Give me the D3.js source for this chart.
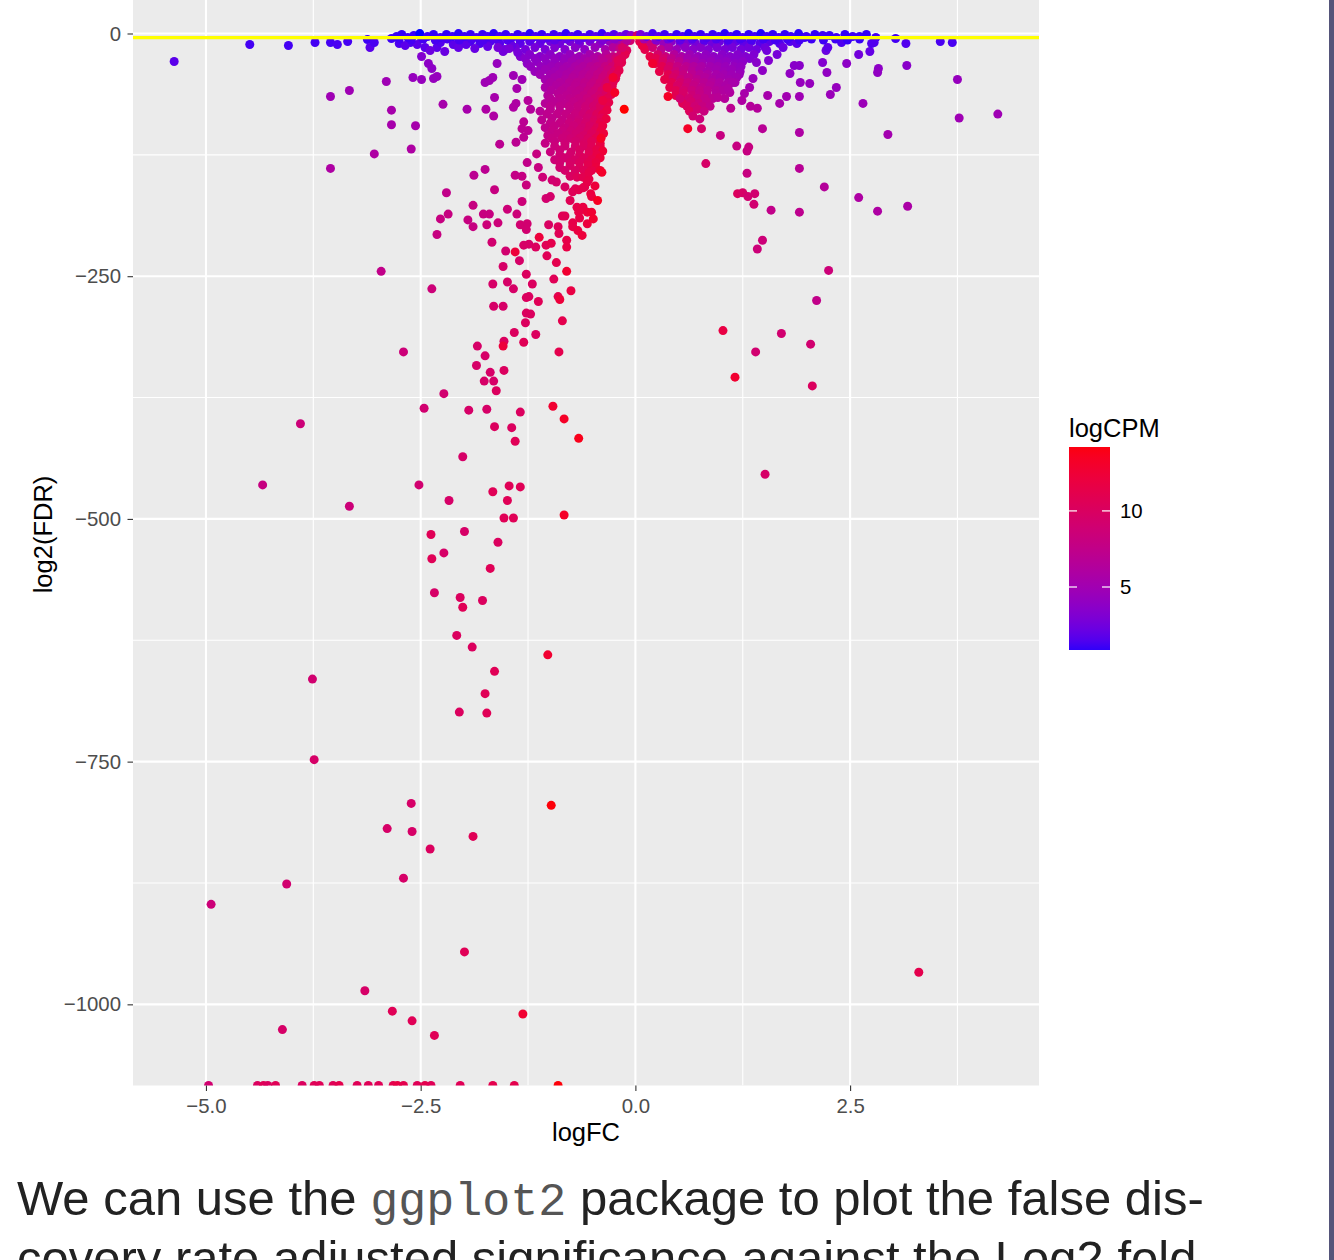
<!DOCTYPE html>
<html><head><meta charset="utf-8">
<script src="https://cdn.jsdelivr.net/npm/d3@7"></script>
<style>body{margin:0;background:#fff}svg{display:block}</style>
</head><body>
<svg id="chart" width="1334" height="1260"></svg>
<script>
// ---- data: [logFC, log2(FDR), logCPM] ----
const xTicks=[-5,-2.5,0,2.5];
const xMinor=[-3.75,-1.25,1.25,3.75];
const yTicks=[0,-250,-500,-750,-1000];
const yMinor=[125,-125,-375,-625,-875];
const legendTicks=[5,10];
const fdrThreshold=Math.log2(0.05);
const bodyLine1=["We can use the ","ggplot2"," package to plot the false dis-"];
const bodyLine2="covery rate adjusted significance against the Log2 fold-";

const leftWing=[
[-2.04,-10.3,1.6],[-1.92,-8.2,1.6],[-1.81,-10.3,1.7],[-1.69,-8.2,1.8],[-1.58,-10.3,1.9],[-1.46,-8.2,2.0],[-1.34,-10.3,2.1],[-1.23,-8.2,2.3],[-1.11,-10.3,2.4],[-0.99,-8.2,2.6],[-0.88,-10.3,2.8],[-0.76,-8.2,3.0],[-0.65,-10.3,3.2],[-0.53,-8.2,3.5],[-0.41,-10.3,3.9],[-0.30,-8.2,4.5],[-0.20,-10.3,5.6],[-0.12,-9.3,7.5],[-0.06,-7.2,9.0],
[-1.52,-16.5,2.7],[-1.40,-14.4,2.8],[-1.28,-16.5,2.9],[-1.17,-14.4,3.0],[-1.05,-16.5,3.2],[-0.94,-14.4,3.4],[-0.82,-16.5,3.6],[-0.70,-14.4,3.8],[-0.59,-16.5,4.1],[-0.47,-14.4,4.6],[-0.35,-16.5,5.4],[-0.26,-14.4,6.4],[-0.18,-15.5,7.8],[-0.10,-17.5,10.0],
[-1.34,-23.7,3.4],[-1.23,-21.6,3.6],[-1.11,-23.7,3.7],[-0.99,-21.6,3.9],[-0.88,-23.7,4.1],[-0.76,-21.6,4.4],[-0.65,-23.7,4.8],[-0.53,-21.6,5.4],[-0.44,-23.7,5.9],[-0.34,-21.6,6.6],[-0.26,-23.7,7.6],[-0.18,-22.7,9.0],[-0.12,-21.6,10.8],
[-1.28,-25.8,3.7],[-1.17,-25.8,3.9],[-1.05,-25.8,4.1],[-0.94,-25.8,4.3],[-0.82,-25.8,4.6],[-0.70,-25.8,5.0],[-0.59,-25.8,5.5],[-0.48,-25.8,6.1],[-0.39,-25.8,6.8],[-0.31,-25.8,7.6],[-0.23,-25.8,8.8],[-0.16,-25.8,10.4],
[-1.26,-30.9,4.0],[-1.15,-28.8,4.1],[-1.03,-30.9,4.3],[-0.94,-28.8,4.5],[-0.84,-30.9,4.8],[-0.74,-28.8,5.2],[-0.65,-30.9,5.6],[-0.55,-28.8,6.0],[-0.46,-30.9,6.5],[-0.37,-28.8,7.1],[-0.28,-30.9,8.0],[-0.22,-28.8,9.2],[-0.16,-29.9,10.8],
[-1.22,-34,4.3],[-1.10,-34,4.5],[-0.98,-34,4.8],[-0.89,-34,5.1],[-0.80,-34,5.4],[-0.70,-34,5.8],[-0.61,-34,6.2],[-0.52,-34,6.7],[-0.44,-34,7.2],[-0.35,-34,7.9],[-0.27,-34,9.0],[-0.20,-34,10.6],
[-1.17,-39.1,4.6],[-1.05,-37.1,4.9],[-0.94,-39.1,5.2],[-0.84,-37.1,5.5],[-0.75,-39.1,5.8],[-0.66,-37.1,6.2],[-0.56,-39.1,6.6],[-0.48,-37.1,7.0],[-0.40,-39.1,7.6],[-0.32,-37.1,8.4],[-0.25,-39.1,9.6],[-0.19,-38.1,11.0],
[-1.11,-42.2,5.0],[-0.99,-42.2,5.3],[-0.89,-42.2,5.6],[-0.80,-42.2,5.9],[-0.70,-42.2,6.3],[-0.61,-42.2,6.7],[-0.52,-42.2,7.1],[-0.44,-42.2,7.6],[-0.35,-42.2,8.3],[-0.28,-42.2,9.3],[-0.22,-42.2,10.8],
[-1.05,-47.4,5.4],[-0.94,-45.3,5.7],[-0.82,-47.4,6.1],[-0.73,-45.3,6.5],[-0.63,-47.4,6.8],[-0.54,-45.3,7.2],[-0.46,-47.4,7.7],[-0.38,-45.3,8.4],[-0.30,-47.4,9.5],[-0.23,-46.4,11.0],
[-0.99,-50.5,5.9],[-0.88,-50.5,6.3],[-0.77,-50.5,6.7],[-0.68,-50.5,7.0],[-0.59,-50.5,7.4],[-0.49,-50.5,7.9],[-0.41,-50.5,8.5],[-0.33,-50.5,9.4],[-0.26,-50.5,10.8],
[-1.05,-55.6,5.8],[-0.92,-53.6,6.2],[-0.81,-55.6,6.6],[-0.70,-53.6,7.0],[-0.61,-55.6,7.3],[-0.52,-53.6,7.8],[-0.44,-55.6,8.4],[-0.35,-53.6,9.2],[-0.27,-54.6,10.8],
[-0.98,-58.7,6.3],[-0.86,-58.7,6.7],[-0.75,-58.7,7.1],[-0.65,-58.7,7.4],[-0.55,-58.7,7.9],[-0.47,-58.7,8.5],[-0.39,-58.7,9.3],[-0.31,-58.7,10.5],
[-1.02,-63.9,6.3],[-0.90,-61.8,6.7],[-0.80,-63.9,7.0],[-0.69,-61.8,7.3],[-0.60,-63.9,7.8],[-0.51,-61.8,8.3],[-0.42,-63.9,9.0],[-0.34,-61.8,9.8],[-0.28,-62.8,11.0],
[-0.99,-67,6.7],[-0.88,-67,7.0],[-0.76,-67,7.3],[-0.66,-67,7.7],[-0.56,-67,8.2],[-0.47,-67,8.8],[-0.40,-67,9.6],[-0.33,-67,10.8],
[-1.05,-72,6.6],[-0.94,-70,6.9],[-0.82,-72,7.2],[-0.72,-70,7.6],[-0.62,-72,8.0],[-0.53,-70,8.5],[-0.45,-72,9.2],[-0.37,-70,10.0],[-0.31,-71,11.2],
[-0.99,-75,7.0],[-0.88,-75,7.3],[-0.77,-75,7.6],[-0.67,-75,8.0],[-0.58,-75,8.5],[-0.49,-75,9.1],[-0.41,-75,9.9],[-0.34,-75,11.0],
[-1.11,-80,6.8],[-0.99,-78,7.1],[-0.88,-80,7.3],[-0.76,-78,7.7],[-0.67,-80,8.1],[-0.58,-78,8.6],[-0.48,-80,9.3],[-0.40,-78,10.1],[-0.33,-79,11.4],
[-1.03,-83,7.2],[-0.91,-83,7.5],[-0.81,-83,7.8],[-0.70,-83,8.2],[-0.61,-83,8.7],[-0.53,-83,9.3],[-0.45,-83,10.1],[-0.38,-83,11.2],
[-1.09,-89,7.1],[-0.97,-87,7.3],[-0.85,-89,7.7],[-0.75,-87,8.1],[-0.66,-89,8.5],[-0.56,-87,9.0],[-0.48,-89,9.7],[-0.40,-87,10.5],[-0.34,-88,11.6],
[-0.99,-92,7.5],[-0.88,-92,7.9],[-0.77,-92,8.3],[-0.67,-92,8.7],[-0.58,-92,9.2],[-0.48,-92,9.9],[-0.41,-92,11.0],
[-1.05,-97,7.3],[-0.94,-95,7.7],[-0.82,-97,8.1],[-0.72,-95,8.5],[-0.62,-97,9.0],[-0.53,-95,9.6],[-0.45,-97,10.3],[-0.38,-95,11.5],
[-0.97,-100,7.8],[-0.85,-100,8.2],[-0.75,-100,8.6],[-0.65,-100,9.0],[-0.55,-100,9.6],[-0.47,-100,10.4],[-0.40,-100,11.5],
[-1.02,-105,7.7],[-0.90,-103,8.0],[-0.80,-105,8.4],[-0.69,-103,8.9],[-0.60,-105,9.4],[-0.51,-103,10.1],[-0.42,-105,11.0],[-0.37,-103,12.0],
[-0.97,-108,8.0],[-0.85,-108,8.4],[-0.75,-108,8.8],[-0.65,-108,9.3],[-0.55,-108,9.9],[-0.46,-108,10.8],
[-1.05,-113,7.8],[-0.94,-111,8.1],[-0.82,-113,8.6],[-0.70,-111,9.1],[-0.60,-113,9.7],[-0.51,-111,10.4],[-0.41,-113,11.6],
[-0.94,-116,8.3],[-0.82,-116,8.7],[-0.70,-116,9.2],[-0.60,-116,9.8],[-0.51,-116,10.5],[-0.41,-116,11.6],
[-0.99,-122,8.2],[-0.88,-120,8.6],[-0.75,-122,9.1],[-0.65,-120,9.7],[-0.54,-122,10.3],[-0.45,-120,11.2],[-0.38,-121,12.2],
[-0.88,-125,8.7],[-0.76,-125,9.2],[-0.65,-125,9.8],[-0.54,-125,10.5],[-0.45,-125,11.4],
[-0.94,-130,8.6],[-0.82,-128,9.0],[-0.70,-130,9.6],[-0.60,-128,10.2],[-0.51,-130,11.0],[-0.41,-128,12.0],
[-0.88,-133,8.9],[-0.76,-133,9.4],[-0.65,-133,10.0],[-0.55,-133,10.7],[-0.46,-133,11.6],
[-0.88,-138,9.0],[-0.76,-136,9.6],[-0.65,-138,10.1],[-0.55,-136,10.9],[-0.46,-138,11.8],
[-0.82,-141,9.3],[-0.70,-141,9.8],[-0.60,-141,10.4],[-0.51,-141,11.2],[-0.41,-141,12.3],
[-0.76,-147,9.8],[-0.68,-148,10.3],[-0.61,-148,10.8],[-0.54,-150,11.3],[-0.54,-143,11.1],[-0.39,-143,12.8],[-0.92,-153,9.3],[-0.97,-151,9.0],[-1.08,-148,8.6],[-1.27,-156,8.2],[-1.32,-147,7.9],[-1.40,-146,7.7],
[-0.82,-158,9.8],[-0.70,-160,10.4],[-0.59,-158,11.0],[-0.51,-168,11.8],
[-0.73,-163,10.4],[-0.66,-161,10.8],[-0.61,-159,11.0],[-0.52,-165,11.8],[-0.44,-172,13.2],[-0.99,-168,9.3],[-1.04,-170,9.1],[-0.47,-157,12.0],[-0.56,-153,11.2],
[-0.76,-172,10.6],[-0.65,-190,11.3],[-0.56,-196,11.9],
[-0.68,-179,11.2],[-0.61,-179,11.6],[-0.56,-184,12.0],[-0.51,-184,12.4],[-0.49,-191,12.6],[-0.66,-184,11.4],[-0.85,-188,10.4],[-0.82,-188,10.6],[-0.73,-195,11.2],[-0.73,-199,11.3],[-0.67,-203,11.7],[-0.62,-208,12.0],[-0.80,-213,11.2],[-0.80,-220,11.4],[-1.01,-197,9.8],[-0.90,-199,10.3],[-0.89,-206,10.5],
[-0.26,-45.3,12.5],[-0.24,-60.8,13.0],[-0.13,-78,14.2],[-0.33,-55.6,11.5],[-0.38,-69,11.5],[-0.20,-27.8,10.5],[-0.15,-14.4,9.5],[-0.40,-108,13.0]
];

const rightWing=[
[0.05,-8.2,11.0],[0.15,-10.3,8.0],[0.24,-8.2,6.0],[0.33,-10.3,4.6],[0.42,-8.2,3.8],[0.52,-10.3,3.5],[0.61,-8.2,3.2],[0.70,-10.3,3.0],[0.80,-8.2,2.8],[0.89,-10.3,2.7],[0.98,-8.2,2.5],[1.08,-10.3,2.4],[1.17,-8.2,2.3],[1.26,-10.3,2.2],[1.35,-8.2,2.1],[1.45,-10.3,2.0],[1.56,-8.2,2.0],[1.68,-10.3,1.9],[1.80,-8.2,1.8],
[0.11,-16.5,11.0],[0.20,-14.4,8.8],[0.30,-16.5,7.0],[0.39,-14.4,5.6],[0.48,-16.5,4.7],[0.58,-14.4,4.1],[0.67,-16.5,3.9],[0.76,-14.4,3.7],[0.85,-16.5,3.5],[0.95,-14.4,3.3],[1.04,-16.5,3.2],[1.13,-14.4,3.0],[1.23,-16.5,2.9],[1.32,-14.4,2.8],[1.41,-16.5,2.7],[1.51,-14.4,2.6],
[0.17,-23.7,11.2],[0.26,-21.6,9.5],[0.35,-23.7,8.0],[0.45,-21.6,6.5],[0.54,-23.7,5.6],[0.63,-21.6,4.9],[0.73,-23.7,4.5],[0.82,-21.6,4.2],[0.91,-23.7,4.0],[1.01,-21.6,3.8],[1.10,-23.7,3.7],[1.19,-21.6,3.6],[1.28,-23.7,3.4],[1.38,-21.6,3.3],
[0.24,-25.8,10.8],[0.33,-25.8,9.0],[0.42,-25.8,7.4],[0.52,-25.8,6.2],[0.61,-25.8,5.4],[0.70,-25.8,4.9],[0.80,-25.8,4.5],[0.89,-25.8,4.3],[0.98,-25.8,4.1],[1.08,-25.8,3.9],[1.17,-25.8,3.7],[1.26,-25.8,3.6],[1.33,-25.8,3.5],
[0.23,-30.9,11.2],[0.32,-28.8,9.6],[0.41,-30.9,8.2],[0.51,-28.8,7.0],[0.60,-30.9,6.0],[0.69,-28.8,5.4],[0.78,-30.9,5.0],[0.88,-28.8,4.7],[0.97,-30.9,4.5],[1.06,-28.8,4.3],[1.16,-30.9,4.1],[1.25,-28.8,4.0],
[0.31,-34,10.8],[0.40,-34,9.2],[0.49,-34,7.9],[0.59,-34,7.0],[0.68,-34,6.3],[0.77,-34,5.8],[0.87,-34,5.3],[0.96,-34,5.0],[1.05,-34,4.7],[1.15,-34,4.5],[1.23,-34,4.3],
[0.28,-39.1,11.2],[0.38,-37.1,9.6],[0.47,-39.1,8.4],[0.56,-37.1,7.4],[0.66,-39.1,6.6],[0.75,-37.1,5.9],[0.84,-39.1,5.5],[0.94,-37.1,5.2],[1.03,-39.1,4.9],[1.12,-37.1,4.7],[1.22,-39.1,4.5],
[0.38,-42.2,10.8],[0.47,-42.2,9.2],[0.56,-42.2,8.0],[0.66,-42.2,7.1],[0.75,-42.2,6.5],[0.84,-42.2,6.0],[0.94,-42.2,5.6],[1.03,-42.2,5.3],[1.12,-42.2,5.0],[1.21,-42.2,4.8],
[0.34,-47.4,11.2],[0.44,-45.3,9.6],[0.53,-47.4,8.5],[0.62,-45.3,7.6],[0.72,-47.4,7.0],[0.81,-45.3,6.4],[0.90,-47.4,5.9],[0.99,-45.3,5.5],[1.09,-47.4,5.3],[1.18,-45.3,5.1],
[0.42,-50.5,10.8],[0.52,-50.5,9.3],[0.61,-50.5,8.3],[0.70,-50.5,7.5],[0.80,-50.5,6.9],[0.89,-50.5,6.4],[0.98,-50.5,6.0],[1.08,-50.5,5.7],[1.16,-50.5,5.4],
[0.40,-55.6,11.0],[0.49,-53.6,9.6],[0.59,-55.6,8.6],[0.68,-53.6,7.8],[0.77,-55.6,7.2],[0.87,-53.6,6.6],[0.96,-55.6,6.1],[1.05,-53.6,5.8],
[0.47,-58.7,10.6],[0.56,-58.7,9.2],[0.66,-58.7,8.3],[0.75,-58.7,7.6],[0.84,-58.7,7.0],[0.94,-58.7,6.5],[1.02,-58.7,6.2],
[0.47,-63.9,10.8],[0.56,-61.8,9.5],[0.66,-63.9,8.6],[0.75,-61.8,7.8],[0.84,-63.9,7.1],[0.94,-61.8,6.5],
[0.53,-67,10.3],[0.62,-67,9.0],[0.72,-67,8.2],[0.81,-67,7.6],[0.90,-67,7.0],
[0.55,-72,10.5],[0.65,-70,9.2],[0.74,-72,8.4],[0.83,-70,7.6],
[0.60,-75,10.0],[0.69,-75,8.8],[0.78,-75,8.0],[0.87,-75,7.5],
[0.63,-80,10.2],[0.72,-78,9.0],[0.80,-80,8.2],[0.67,-85,9.0],[0.75,-88,8.5],
[0.20,-30.9,12.5],[0.38,-64.9,13.0],[0.61,-98,13.0],[0.08,-12.4,11.5]
];

const leftScatter=[
[-5.37,-28.8,2.0],[-4.49,-11.3,1.5],[-4.04,-12.4,1.5],[-3.73,-9.3,1.5],[-3.55,-9.3,1.5],[-3.47,-11.3,1.6],[-3.35,-8.2,1.5],[-3.12,-6.2,1.4],[-3.09,-14.4,2.0],[-3.04,-9.3,1.6],[-2.84,-5.2,1.4],[-2.75,-10.3,1.7],[-2.62,-9.3,1.7],[-2.49,-5.2,1.5],[-2.45,-14.4,2.0],[-2.31,-14.4,2.0],[-2.22,-18.5,2.5],[-2.12,-11.3,2.0],
[-2.68,-12.4,2.0],[-2.54,-11.3,2.0],[-2.39,-17.5,2.6],[-2.27,-9.3,1.8],[-2.06,-14.4,2.3],[-1.97,-11.3,2.1],[-1.87,-15.5,2.4],[-1.72,-13.4,2.3],[-1.54,-18.5,2.8],[-1.44,-12.4,2.4],[-1.37,-19.6,3.0],
[-2.49,-23.7,3.5],[-2.41,-30.9,4.0],[-2.37,-36,4.0],[-2.59,-45.3,4.5],[-2.49,-47.4,4.5],[-2.35,-46.4,4.5],[-2.31,-44.3,4.5],[-2.90,-49.4,5.0],[-3.55,-64.9,5.0],[-3.33,-58.7,5.0],[-2.84,-79,5.5],[-2.84,-94,5.5],[-2.56,-95,5.5],[-3.04,-124,6.0],[-3.55,-139,6.0],[-2.61,-119,6.0],
[-2.24,-73,5.5],[-1.96,-78,5.5],[-1.74,-78,6.0],[-1.65,-85,6.0],[-1.64,-65.9,5.5],[-1.75,-50.5,5.0],[-1.70,-48.4,5.0],[-1.66,-45.3,5.0],[-1.61,-30.9,4.5],[-1.60,-14.4,3.0],[-1.47,-15.5,3.0],[-1.42,-43.3,5.0],[-1.32,-47.4,5.0],[-1.38,-56.7,5.5],[-1.42,-76,6.0],[-1.39,-72,6.0],[-1.25,-69,6.5],[-1.22,-78,6.5],
[-1.30,-91,7.0],[-1.32,-98,7.0],[-1.25,-100,7.0],[-1.30,-107,7.0],[-1.39,-112,7.0],[-1.58,-114,7.0],[-1.26,-133,7.5],[-1.15,-124,8.0],[-1.13,-138,8.0],[-1.88,-146,7.0],[-1.75,-140,7.0],
[-2.20,-164,7.5],[-1.64,-161,8.0],[-1.89,-177,8.0],[-1.32,-173,8.5],[-2.27,-191,8.0],[-2.18,-186,8.0],[-1.95,-192,8.0],[-1.89,-199,8.0],[-1.77,-186,8.0],[-1.70,-186,8.0],[-1.73,-197,8.5],[-1.60,-195,8.5],[-1.49,-181,8.5],[-1.38,-186,8.5],[-1.34,-197,9.0],[-1.26,-196,9.0],[-1.27,-202,9.0],[-2.31,-207,8.0],
[-1.67,-215,9.0],[-1.51,-224,9.0],[-1.40,-225,12.0],[-1.30,-218,9.5],[-1.24,-217,9.5],[-1.16,-220,10.0],[-1.04,-218,10.5],[-0.98,-216,11.0],[-1.03,-229,10.5],[-1.12,-210,12.0],[-0.92,-236,11.0],[-1.35,-234,9.5],[-1.54,-240,9.5],[-1.27,-248,10.0],
[-2.96,-245,7.5],[-2.37,-263,8.5],[-1.66,-258,9.5],[-1.49,-256,9.5],[-1.42,-263,9.5],[-1.20,-258,10.0],[-0.95,-253,10.5],[-0.80,-245,12.5],[-0.75,-265,11.5],[-1.27,-272,10.0],[-1.24,-271,10.0],[-1.13,-276,10.5],[-0.90,-271,11.0],[-0.88,-274,12.0],
[-1.65,-281,9.5],[-1.54,-281,9.5],[-1.27,-288,10.0],[-1.22,-289,10.0],[-1.28,-298,10.0],[-0.85,-296,11.0],[-1.41,-308,10.0],[-1.16,-310,10.0],[-1.53,-317,10.0],[-1.54,-322,12.0],[-1.30,-318,10.5],[-0.89,-328,11.0],
[-2.70,-328,8.5],[-1.84,-322,9.5],[-1.75,-332,9.5],[-1.85,-342,9.5],[-1.69,-349,9.5],[-1.53,-347,10.0],[-1.76,-358,9.5],[-1.65,-358,9.5],[-1.62,-368,10.0],[-2.23,-371,9.0],[-2.46,-386,9.0],[-1.94,-388,9.5],[-1.73,-387,9.5],[-1.34,-390,10.0],[-0.96,-384,12.5],[-0.83,-397,13.0],[-1.64,-405,10.0],[-1.44,-406,10.0],
[-0.66,-417,13.5],[-1.40,-420,10.5],[-2.01,-436,9.5],[-2.52,-465,9.0],[-1.66,-472,10.5],[-1.47,-466,10.5],[-1.34,-467,10.5],[-2.17,-481,9.5],[-1.49,-481,10.5],[-1.53,-499,10.5],[-1.42,-499,10.5],[-0.83,-496,13.0],
[-2.38,-516,10.5],[-1.99,-513,9.5],[-1.60,-524,10.0],[-2.23,-535,9.5],[-2.37,-541,10.5],[-1.69,-551,10.5],[-2.34,-576,9.5],[-2.04,-581,10.0],[-1.78,-584,10.0],[-2.01,-591,10.5],[-2.08,-620,10.0],[-1.90,-632,10.0],[-1.02,-640,12.5],[-1.64,-657,10.5],[-1.75,-680,10.5],[-2.05,-699,10.0],[-1.73,-700,10.5],
[-3.90,-402,8.5],[-4.34,-465,8.0],[-3.33,-487,8.5],[-3.76,-665,9.0],[-3.74,-748,9.5],
[-2.61,-793,9.5],[-0.98,-795,14.0],[-2.89,-819,9.5],[-2.60,-822,9.5],[-1.89,-827,10.5],[-2.39,-840,10.0],[-4.06,-876,9.0],[-2.70,-870,9.5],[-4.94,-897,8.5],[-1.99,-946,10.5],[-3.15,-986,9.5],[-2.83,-1007,10.5],[-1.31,-1010,12.5],[-4.11,-1026,9.5],[-2.60,-1017,10.5],[-2.34,-1032,10.5]
];

const rightScatter=[
[0.77,-98,9.5],[0.52,-67,9.0],[0.99,-105,8.0],[1.18,-116,8.0],[1.32,-117,8.0],[1.30,-121,8.0],[0.82,-134,9.5],[1.30,-144,8.0],[1.11,-77,7.0],[1.34,-75,6.5],[1.42,-77,6.5],[1.48,-98,6.8],[1.91,-102,6.0],[1.91,-139,6.8],
[1.54,-63.9,5.5],[1.68,-72,5.5],[1.76,-64.9,5.2],[1.91,-64.9,5.0],[2.03,-51.5,4.5],[1.92,-50.5,4.5],[1.80,-41.2,4.2],[1.85,-33,3.8],[1.91,-33,3.8],[2.18,-29.9,3.5],[2.23,-40.2,4.2],[2.22,-17.5,2.5],[1.65,-21.6,3.0],[1.72,-14.4,2.5],[1.88,-10.3,2.0],[1.97,-4.1,1.5],[2.18,-2.1,1.4],
[1.53,-17.5,2.8],[1.55,-27.8,3.5],[1.41,-29.9,3.8],[1.48,-38.1,4.1],[1.37,-46.4,4.7],[1.33,-55.6,5.2],[1.27,-61.8,5.6],[1.24,-69,6.0],[1.10,-60.8,6.2],[1.04,-67,6.5],[0.96,-65.9,6.8],[1.13,-50.5,5.6],[1.08,-56.7,6.0],
[2.19,-3.1,1.4],[2.34,-4.1,1.5],[2.40,-9.3,1.7],[2.53,-3.1,1.4],[2.80,-4.1,1.5],[3.03,-5.2,1.5],[3.15,-10.3,1.8],[3.55,-8.2,1.6],[3.69,-9.3,1.6],[2.73,-18.5,2.3],[2.78,-9.3,1.8],[2.75,-10.3,1.8],[2.24,-14.4,2.1],
[2.46,-30.9,4.0],[2.60,-21.6,2.8],[3.16,-33,3.8],[2.83,-36,4.0],[2.82,-40.2,4.2],[3.75,-47.4,4.5],[2.34,-55.6,4.5],[2.27,-62.8,4.7],[2.65,-72,4.8],[3.77,-87,5.0],[4.22,-83,5.0],[2.94,-104,5.3],
[1.19,-165,10.0],[1.25,-164,9.5],[1.31,-168,9.0],[1.39,-165,9.0],[1.38,-176,9.0],[1.58,-182,7.5],[1.91,-184,7.2],[2.20,-158,6.5],[2.60,-169,6.0],[2.82,-183,6.0],[3.17,-178,5.8],
[1.48,-213,8.5],[1.42,-222,8.5],[2.25,-244,8.5],[2.11,-275,7.5],[1.02,-306,11.5],[1.70,-309,9.0],[1.40,-328,9.0],[2.04,-320,9.0],[1.16,-354,12.5],[2.06,-363,10.0],[1.51,-454,9.5],[3.30,-967,11.0]
];

// genes with FDR = 0 (log2 FDR = -Inf): [logFC, logCPM]
const floorPoints=[
[-4.97,9.0],[-4.40,10.0],[-4.33,10.5],[-4.28,10.0],[-4.19,10.5],[-3.88,10.0],[-3.74,10.5],[-3.68,10.5],[-3.52,10.5],[-3.45,11.0],[-3.24,10.5],[-3.11,10.5],[-2.99,10.5],[-2.82,11.0],[-2.77,11.5],[-2.70,11.0],[-2.54,10.5],[-2.45,11.0],[-2.38,10.5],[-2.04,10.5],[-1.66,11.0],[-1.41,11.0],[-0.90,14.0]
];

const topBand=[
[-2.75,-5.7,1.5],[-2.61,-6.7,1.5],[-2.47,-5.7,1.5],[-2.33,-6.7,1.6],[-2.19,-5.7,1.6],[-2.05,-6.7,1.6],[-1.91,-5.7,1.7],[-1.77,-6.7,1.7],[-1.64,-5.7,1.8],[-1.49,-6.7,1.8],[-1.35,-5.7,1.9],[-1.22,-6.7,2.0],[-1.08,-5.7,2.1],[-0.94,-6.7,2.2],[-0.80,-5.7,2.3],[-0.66,-6.7,2.5],[-0.52,-5.7,2.8],[-0.38,-6.7,3.2],[-0.24,-5.7,4.0],[-0.10,-6.7,6.5],
[0.10,-5.7,5.5],[0.24,-6.7,3.5],[0.38,-5.7,2.6],[0.52,-6.7,2.2],[0.66,-5.7,2.0],[0.80,-6.7,1.9],[0.94,-5.7,1.8],[1.08,-6.7,1.7],[1.22,-5.7,1.6],[1.35,-6.7,1.6],[1.49,-5.7,1.5],[1.63,-6.7,1.5],[1.77,-5.7,1.5],[1.91,-6.7,1.5],[2.05,-5.7,1.4],[2.19,-6.7,1.4],[2.33,-5.7,1.4],[2.47,-6.7,1.3],[2.61,-5.7,1.3],
[-2.78,-3.1,1.3],[-2.72,-1.0,1.2],[-2.65,-4.1,1.4],[-2.58,-2.1,1.3],[-2.51,-0.1,0.86],[-2.42,-3.1,1.4],[-2.35,-1.0,1.2],[-2.27,-4.1,1.5],[-2.20,-1.0,1.2],[-2.13,-3.1,1.4],[-2.06,-0.1,1.1],[-1.99,-3.1,1.4],[-1.92,-1.0,1.3],[-1.85,-4.1,1.6],[-1.78,-1.0,1.3],[-1.72,-3.1,1.5],[-1.65,-0.1,1.1],[-1.58,-3.1,1.5],[-1.51,-1.0,1.3],[-1.44,-4.1,1.7],[-1.37,-1.0,1.3],[-1.30,-3.1,1.6],[-1.23,-0.1,1.1],[-1.16,-3.1,1.6],[-1.09,-1.0,1.3],[-1.02,-4.1,1.8],[-0.95,-1.0,1.4],[-0.88,-3.1,1.7],[-0.81,-0.1,1.2],[-0.74,-3.1,1.8],[-0.67,-1.0,1.4],[-0.60,-4.1,2.0],[-0.53,-1.0,1.5],[-0.46,-3.1,2.0],[-0.39,-0.1,1.3],[-0.32,-3.1,2.3],[-0.25,-1.0,1.8],[-0.18,-3.1,3.0],[-0.11,-1.0,2.5],[-0.05,-2.1,4.0],[0.02,-2.1,9.5],
[0.06,-1.0,3.0],[0.13,-3.1,2.5],[0.20,-0.1,1.5],[0.27,-3.1,2.0],[0.34,-1.0,1.4],[0.41,-4.1,1.9],[0.48,-1.0,1.3],[0.55,-3.1,1.7],[0.62,-0.1,1.1],[0.69,-3.1,1.6],[0.76,-1.0,1.3],[0.83,-4.1,1.7],[0.90,-1.0,1.3],[0.97,-3.1,1.5],[1.04,-0.1,1.1],[1.11,-3.1,1.5],[1.18,-1.0,1.2],[1.25,-4.1,1.6],[1.32,-1.0,1.2],[1.39,-3.1,1.5],[1.46,-0.1,1.0],[1.53,-3.1,1.4],[1.60,-1.0,1.2],[1.67,-4.1,1.5],[1.74,-1.0,1.2],[1.81,-3.1,1.4],[1.90,-0.1,1.1],[1.99,-3.1,1.4],[2.09,-1.0,1.2],[2.26,-2.1,1.3],[2.44,-1.0,1.2],[2.61,-3.1,1.3],[2.69,-1.0,1.2]
];

// ---- layout ----
const svg=d3.select("#chart");
const FONT="'Liberation Sans', Arial, Helvetica, sans-serif";
const panel={left:133,right:1039,top:-16.5,bottom:1085.5};

const finite=[].concat(leftWing,rightWing,leftScatter,rightScatter,topBand);
const floorRows=floorPoints.map(d=>[d[0],-Infinity,d[1]]);
const all=finite.concat(floorRows);

const fcExt=d3.extent(all,d=>d[0]);
const fdrExt=d3.extent(finite,d=>d[1]);
const padX=(fcExt[1]-fcExt[0])*0.05, padY=(fdrExt[1]-fdrExt[0])*0.05;
const x=d3.scaleLinear().domain([fcExt[0]-padX,fcExt[1]+padX]).range([panel.left,panel.right]);
const y=d3.scaleLinear().domain([fdrExt[0]-padY,fdrExt[1]+padY]).range([panel.bottom,panel.top]).clamp(true);
const cpmExt=d3.extent(all,d=>d[2]);
const color=d3.scaleLinear().domain(cpmExt).range(["#0000ff","#ff0000"]).interpolate(d3.interpolateLab);

svg.append("rect").attr("width",1334).attr("height",1260).attr("fill","#fff");

const defs=svg.append("defs");
defs.append("clipPath").attr("id","pclip").append("rect")
  .attr("x",panel.left).attr("y",panel.top).attr("width",panel.right-panel.left).attr("height",panel.bottom-panel.top);

svg.append("rect").attr("x",panel.left).attr("y",panel.top)
  .attr("width",panel.right-panel.left).attr("height",panel.bottom-panel.top).attr("fill","#ebebeb");

const grid=svg.append("g").attr("clip-path","url(#pclip)");
grid.selectAll(".vmin").data(xMinor).join("line")
  .attr("x1",d=>x(d)).attr("x2",d=>x(d)).attr("y1",panel.top).attr("y2",panel.bottom)
  .attr("stroke","#fff").attr("stroke-width",1.1);
grid.selectAll(".hmin").data(yMinor).join("line")
  .attr("y1",d=>y(d)).attr("y2",d=>y(d)).attr("x1",panel.left).attr("x2",panel.right)
  .attr("stroke","#fff").attr("stroke-width",1.1);
grid.selectAll(".vmaj").data(xTicks).join("line")
  .attr("x1",d=>x(d)).attr("x2",d=>x(d)).attr("y1",panel.top).attr("y2",panel.bottom)
  .attr("stroke","#fff").attr("stroke-width",2.1);
grid.selectAll(".hmaj").data(yTicks).join("line")
  .attr("y1",d=>y(d)).attr("y2",d=>y(d)).attr("x1",panel.left).attr("x2",panel.right)
  .attr("stroke","#fff").attr("stroke-width",2.1);

const pts=svg.append("g").attr("clip-path","url(#pclip)");
[leftWing,rightWing,leftScatter,rightScatter,floorRows,topBand].forEach(arr=>{
  pts.append("g").selectAll("circle").data(arr).join("circle")
    .attr("cx",d=>x(d[0])).attr("cy",d=>y(d[1])).attr("r",4.5)
    .attr("fill",d=>color(d[2]));
});

pts.append("line").attr("x1",panel.left).attr("x2",panel.right)
  .attr("y1",y(fdrThreshold)).attr("y2",y(fdrThreshold))
  .attr("stroke","#ffff00").attr("stroke-width",3.2);

// axes
const xAxis=svg.append("g").attr("transform",`translate(0,${panel.bottom})`)
  .call(d3.axisBottom(x).tickValues(xTicks).tickFormat(d3.format(".1f")).tickSize(5.5).tickPadding(8));
const yAxis=svg.append("g").attr("transform",`translate(${panel.left},0)`)
  .call(d3.axisLeft(y).tickValues(yTicks).tickFormat(d3.format("d")).tickSize(5.5).tickPadding(6.5));
[xAxis,yAxis].forEach(a=>{
  a.select(".domain").remove();
  a.selectAll("line").attr("stroke","#333").attr("stroke-width",1.1);
  a.selectAll("text").attr("fill","#4d4d4d").style("font-family",FONT).style("font-size","20.4px");
});

svg.append("text").attr("x",(panel.left+panel.right)/2).attr("y",1141)
  .attr("text-anchor","middle").style("font-family",FONT).style("font-size","25.5px").attr("fill","#000").text("logFC");
svg.append("text").attr("transform",`translate(52,${(panel.top+panel.bottom)/2}) rotate(-90)`)
  .attr("text-anchor","middle").style("font-family",FONT).style("font-size","25.5px").attr("fill","#000").text("log2(FDR)");

// legend
const lg={x:1069,w:41,top:447,bottom:650};
const ly=d3.scaleLinear().domain(cpmExt).range([lg.bottom,lg.top]);
const grad=defs.append("linearGradient").attr("id","cbar").attr("x1",0).attr("y1",1).attr("x2",0).attr("y2",0);
d3.range(0,1.0001,0.05).forEach(s=>{
  const t=0.025+0.95*s;
  grad.append("stop").attr("offset",s).attr("stop-color",color(cpmExt[0]+t*(cpmExt[1]-cpmExt[0])));
});
svg.append("text").attr("x",lg.x).attr("y",437).style("font-family",FONT).style("font-size","25.5px").attr("fill","#000").text("logCPM");
svg.append("rect").attr("x",lg.x).attr("y",lg.top).attr("width",lg.w).attr("height",lg.bottom-lg.top).attr("fill","url(#cbar)");
legendTicks.forEach(v=>{
  const yy=ly(v);
  svg.append("line").attr("x1",lg.x).attr("x2",lg.x+8).attr("y1",yy).attr("y2",yy).attr("stroke","#fff").attr("stroke-width",1.2);
  svg.append("line").attr("x1",lg.x+lg.w-8).attr("x2",lg.x+lg.w).attr("y1",yy).attr("y2",yy).attr("stroke","#fff").attr("stroke-width",1.2);
  svg.append("text").attr("x",1120).attr("y",yy).attr("dy","0.35em").style("font-family",FONT).style("font-size","20.4px").attr("fill","#000").text(v);
});

// body text below (second line is cut by the page edge, as in the source)
const t1=svg.append("text").attr("x",17).attr("y",1215).style("font-family",FONT).style("font-size","49px").attr("fill","#222");
t1.append("tspan").text(bodyLine1[0]);
t1.append("tspan").style("font-family","'Liberation Mono', 'Courier New', monospace").style("font-size","46.7px").attr("fill","#555").text(bodyLine1[1]);
t1.append("tspan").text(bodyLine1[2]);
svg.append("text").attr("x",17).attr("y",1275).style("font-family",FONT).style("font-size","49px").attr("fill","#222").text(bodyLine2);

// page edge
svg.append("rect").attr("x",1329).attr("y",0).attr("width",5).attr("height",1260).attr("fill","#55557a");
</script>
</body></html>
